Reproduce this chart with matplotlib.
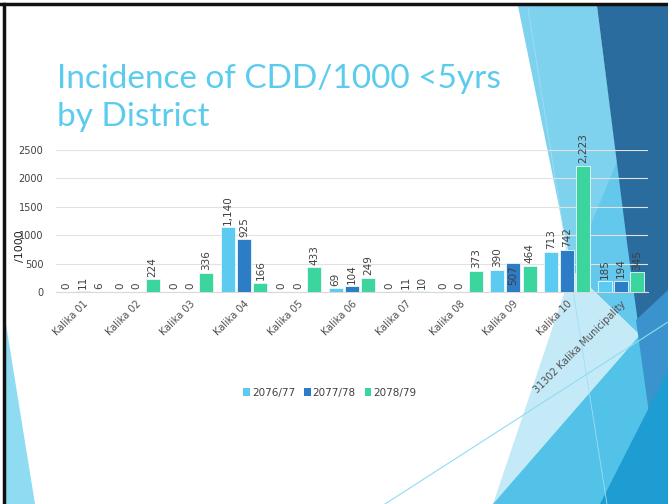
import numpy as np
import matplotlib
matplotlib.use("Agg")
import matplotlib.pyplot as plt
from matplotlib.patches import Polygon, Patch

# data
districts = ["Kalika 01", "Kalika 02", "Kalika 03", "Kalika 04", "Kalika 05",
             "Kalika 06", "Kalika 07", "Kalika 08", "Kalika 09", "Kalika 10",
             "31302 Kalika Municipality"]
years = ["2076/77", "2077/78", "2078/79"]
v_7677 = [0, 0, 0, 1140, 0, 69, 0, 0, 390, 713, 185]
v_7778 = [11, 0, 0, 925, 0, 104, 11, 0, 507, 742, 194]
v_7879 = [6, 224, 336, 166, 433, 249, 10, 373, 464, 2223, 345]
yticks = [0, 500, 1000, 1500, 2000, 2500]

colors = ["#5CCBF2", "#2C7DC6", "#3DD59E"]
txt = "#404040"

W, H = 668, 504
fig = plt.figure(figsize=(W/100, H/100), dpi=100)

# slide background decoration (pixel coords, y down)
bg = fig.add_axes([0, 0, 1, 1], zorder=-5)
bg.set_xlim(0, W)
bg.set_ylim(H, 0)
bg.set_axis_off()
shapes = [
    ([(518, 6), (597, 6), (640, 335), (572, 270)], "#7ED2EE"),
    ([(626, 140), (640, 335), (572, 270)], "#64C7EC"),
    ([(572, 270), (640, 335), (560, 504), (493, 504)], "#C5EAF7"),
    ([(493, 504), (640, 335), (668, 310), (668, 504)], "#52C2E8"),
    ([(597, 6), (668, 6), (668, 370), (650, 410), (628, 250)], "#2B6C9F"),
    ([(636, 320), (668, 290), (668, 380), (650, 420)], "#3A93CC"),
    ([(600, 504), (668, 370), (668, 504)], "#1E9DD2"),
    ([(5, 318), (35, 504), (5, 504)], "#8FDCF2"),
]
for pts, c in shapes:
    bg.add_patch(Polygon(pts, closed=True, facecolor=c, edgecolor="none"))
bg.plot([385, 668], [504, 322], color="#8FDCF2", lw=0.8)
bg.plot([528, 607], [8, 504], color="#9FDDF3", lw=0.6)
bg.plot([0, W], [4, 4], color="#111111", lw=2.5)
bg.plot([4, 4], [4, H], color="#111111", lw=2.5)

# title
fig.text(57/W, 1-88/H, "Incidence of CDD/1000 <5yrs", fontsize=24, family="Lato",
         color="#5BCBEE", va="baseline", ha="left")
fig.text(57/W, 1-126/H, "by District", fontsize=24, family="Lato",
         color="#5BCBEE", va="baseline", ha="left")

# chart
ax = fig.add_axes([55.7/W, 1-292/H, (648-55.7)/W, 142/H])
ax.patch.set_alpha(0)
x = np.arange(len(districts))
off = 0.3
bw = 0.26
series = [v_7677, v_7778, v_7879]
for i, vals in enumerate(series):
    xs = x + (i-1)*off
    ax.bar(xs, vals, width=bw, color=colors[i], edgecolor="#EEF7FB", linewidth=0.6,
           zorder=3)
    for xi, v in zip(xs, vals):
        s = f"{v:,}"
        if i == 1 and v == 507:
            ax.text(xi, v - 40, s, rotation=90, ha="center", va="top",
                    fontsize=7.5, color=txt, zorder=4)
        else:
            ax.text(xi, v + 45, s, rotation=90, ha="center", va="bottom",
                    fontsize=7.5, color=txt, zorder=4, clip_on=False)

ax.set_xlim(-0.5, len(districts)-0.5)
ax.set_ylim(0, 2500)
ax.set_yticks(yticks)
ax.set_yticklabels([str(t) for t in yticks], fontsize=7, color=txt)
ax.set_xticks(x)
ax.set_xticklabels(districts, rotation=45, ha="right", rotation_mode="anchor",
                   fontsize=7, color="#505050")
ax.tick_params(axis="both", length=0, pad=5)
ax.tick_params(axis="y", pad=9)
ax.grid(axis="y", color="#E2E2E2", lw=0.8, zorder=0)
for sp in ["top", "right", "left"]:
    ax.spines[sp].set_visible(False)
ax.spines["bottom"].set_color("#D9D9D9")
ax.set_axisbelow(True)

fig.text(20/W, 1-246/H, "/1000", rotation=90, fontsize=8, color="#222222",
         ha="center", va="center")

handles = [Patch(facecolor=c, edgecolor="none") for c in colors]
fig.legend(handles, years, loc="center", bbox_to_anchor=(330/W, 1-393/H), ncol=3,
           frameon=False, fontsize=7.5, handlelength=0.6, handleheight=0.8,
           handletextpad=0.2, columnspacing=0.9, labelcolor=txt)

fig.savefig("out.png", dpi=100)
